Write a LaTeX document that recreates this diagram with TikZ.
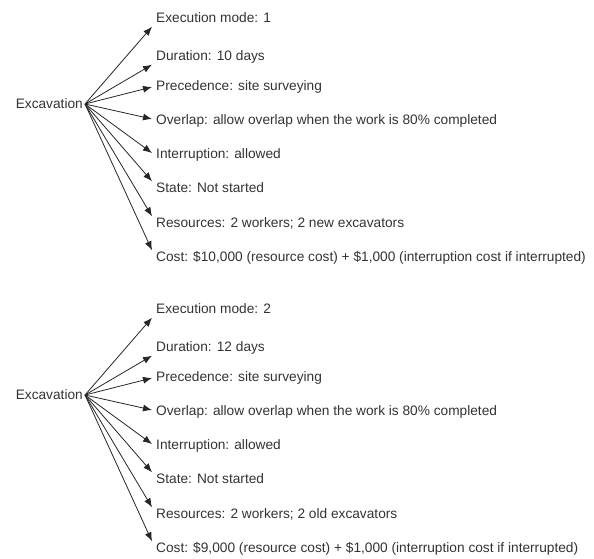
\documentclass[tikz,border=0pt]{standalone}
\usepackage{fontspec}
\setmainfont{Liberation Sans}
\usepackage{tikz}
\usetikzlibrary{arrows.meta}

\begin{document}
\begin{tikzpicture}[x=1pt, y=-1pt,
	attr/.style={anchor=west, inner xsep=4pt, inner ysep=1pt, text height=10pt, text depth=3pt, text=black!80, font=\fontsize{13.7}{16}\selectfont},
	task/.style={anchor=east, inner sep=2pt, text=black!80, font=\fontsize{13.7}{16}\selectfont},
	link/.style={-{Latex[length=9pt,width=7pt]}, line width=0.8pt, draw=black!85}]
	\useasboundingbox (0,0) rectangle (594,558);

	% first execution mode
	\node[task] at (85,104) (excavation-a) {Excavation};
	\node[attr] at (152,19) (mode-a) {Execution mode: 1};
	\node[attr] at (152,57) (duration-a) {Duration: 10 days};
	\node[attr] at (152,87) (precedence-a) {Precedence: site surveying};
	\node[attr] at (152,121) (overlap-a) {Overlap: allow overlap when the work is 80\% completed};
	\node[attr] at (152,155) (interruption-a) {Interruption: allowed};
	\node[attr] at (152,189) (state-a) {State: Not started};
	\node[attr] at (152,224) (resources-a) {Resources: 2 workers; 2 new excavators};
	\node[attr] at (152,258) (cost-a) {Cost: \$10,000 (resource cost) + \$1,000 (interruption cost if interrupted)};

	\draw[link] (excavation-a.east) to (mode-a.south west);
	\draw[link] (excavation-a.east) to (duration-a.south west);
	\draw[link] (excavation-a.east) to (precedence-a.west);
	\draw[link] (excavation-a.east) to ([yshift=2pt]overlap-a.west);
	\draw[link] (excavation-a.east) to ([yshift=2pt]interruption-a.west);
	\draw[link] (excavation-a.east) to (state-a.north west);
	\draw[link] (excavation-a.east) to (resources-a.north west);
	\draw[link] (excavation-a.east) to (cost-a.north west);

	% second execution mode
	\node[task] at (85,395) (excavation-b) {Excavation};
	\node[attr] at (152,310) (mode-b) {Execution mode: 2};
	\node[attr] at (152,348) (duration-b) {Duration: 12 days};
	\node[attr] at (152,378) (precedence-b) {Precedence: site surveying};
	\node[attr] at (152,412) (overlap-b) {Overlap: allow overlap when the work is 80\% completed};
	\node[attr] at (152,446) (interruption-b) {Interruption: allowed};
	\node[attr] at (152,480) (state-b) {State: Not started};
	\node[attr] at (152,515) (resources-b) {Resources: 2 workers; 2 old excavators};
	\node[attr] at (152,549) (cost-b) {Cost: \$9,000 (resource cost) + \$1,000 (interruption cost if interrupted)};

	\draw[link] (excavation-b.east) to (mode-b.south west);
	\draw[link] (excavation-b.east) to (duration-b.south west);
	\draw[link] (excavation-b.east) to (precedence-b.west);
	\draw[link] (excavation-b.east) to ([yshift=2pt]overlap-b.west);
	\draw[link] (excavation-b.east) to ([yshift=2pt]interruption-b.west);
	\draw[link] (excavation-b.east) to (state-b.north west);
	\draw[link] (excavation-b.east) to (resources-b.north west);
	\draw[link] (excavation-b.east) to (cost-b.north west);
\end{tikzpicture}
\end{document}
